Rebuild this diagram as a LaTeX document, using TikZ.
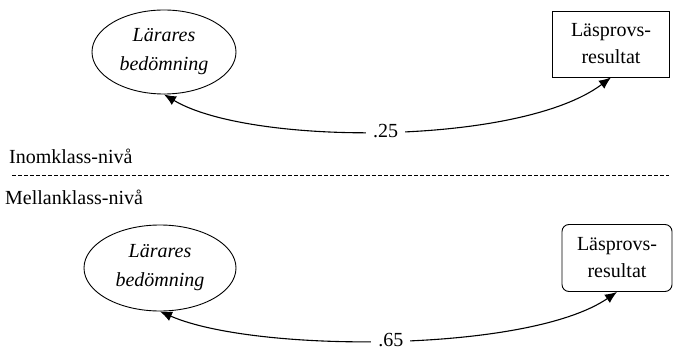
\documentclass[tikz,border=0pt]{standalone}
\usepackage{fontspec}
\setmainfont{Liberation Serif}
\usetikzlibrary{arrows.meta,shapes.geometric}
\begin{document}
\begin{tikzpicture}[x=1pt,y=-1pt,
  every node/.style={font=\fontsize{20}{27}\selectfont, align=center, inner sep=0pt},
  latent/.style={draw, ellipse, line width=0.9pt, minimum width=144pt, minimum height=84pt, font=\fontsize{20}{29}\selectfont\itshape},
  obsbox/.style={draw, line width=0.9pt, minimum width=117pt, minimum height=66pt},
  corr/.style={line width=1.1pt, {Latex[length=12pt,width=10pt]}-{Latex[length=12pt,width=10pt]}},
  lbl/.style={fill=white, inner xsep=7pt, inner ysep=2pt}]
\useasboundingbox (0,0) rectangle (674,358);
% top level
\node[latent] (e1) at (164,52) {Lärares\\bedömning};
\node[obsbox] (b1) at (611,44) {Läsprovs-\\resultat};
\draw[corr] (e1.south) .. controls (250,146) and (520,146) .. (b1.south)
  node[pos=0.5, lbl] (r1) {.25};
% level labels
\node[anchor=west] (t1) at (9,156) {Inomklass-nivå};
\coordinate (d1) at (12,175);
\coordinate (d2) at (669,175);
\draw[line width=0.6pt, dash pattern=on 4pt off 2pt] (d1) -- (d2);
\node[anchor=west] (t2) at (5,197) {Mellanklass-nivå};
% bottom level
\node[latent, minimum width=152pt, minimum height=86pt] (e2) at (160,268) {Lärares\\bedömning};
\node[obsbox, rounded corners=7pt, minimum width=110pt, minimum height=67pt] (b2) at (617,258) {Läsprovs-\\resultat};
\draw[corr] (e2.south) .. controls (255,353) and (528,353) .. (b2.south)
  node[pos=0.5, lbl] (r2) {.65};
\end{tikzpicture}
\end{document}
